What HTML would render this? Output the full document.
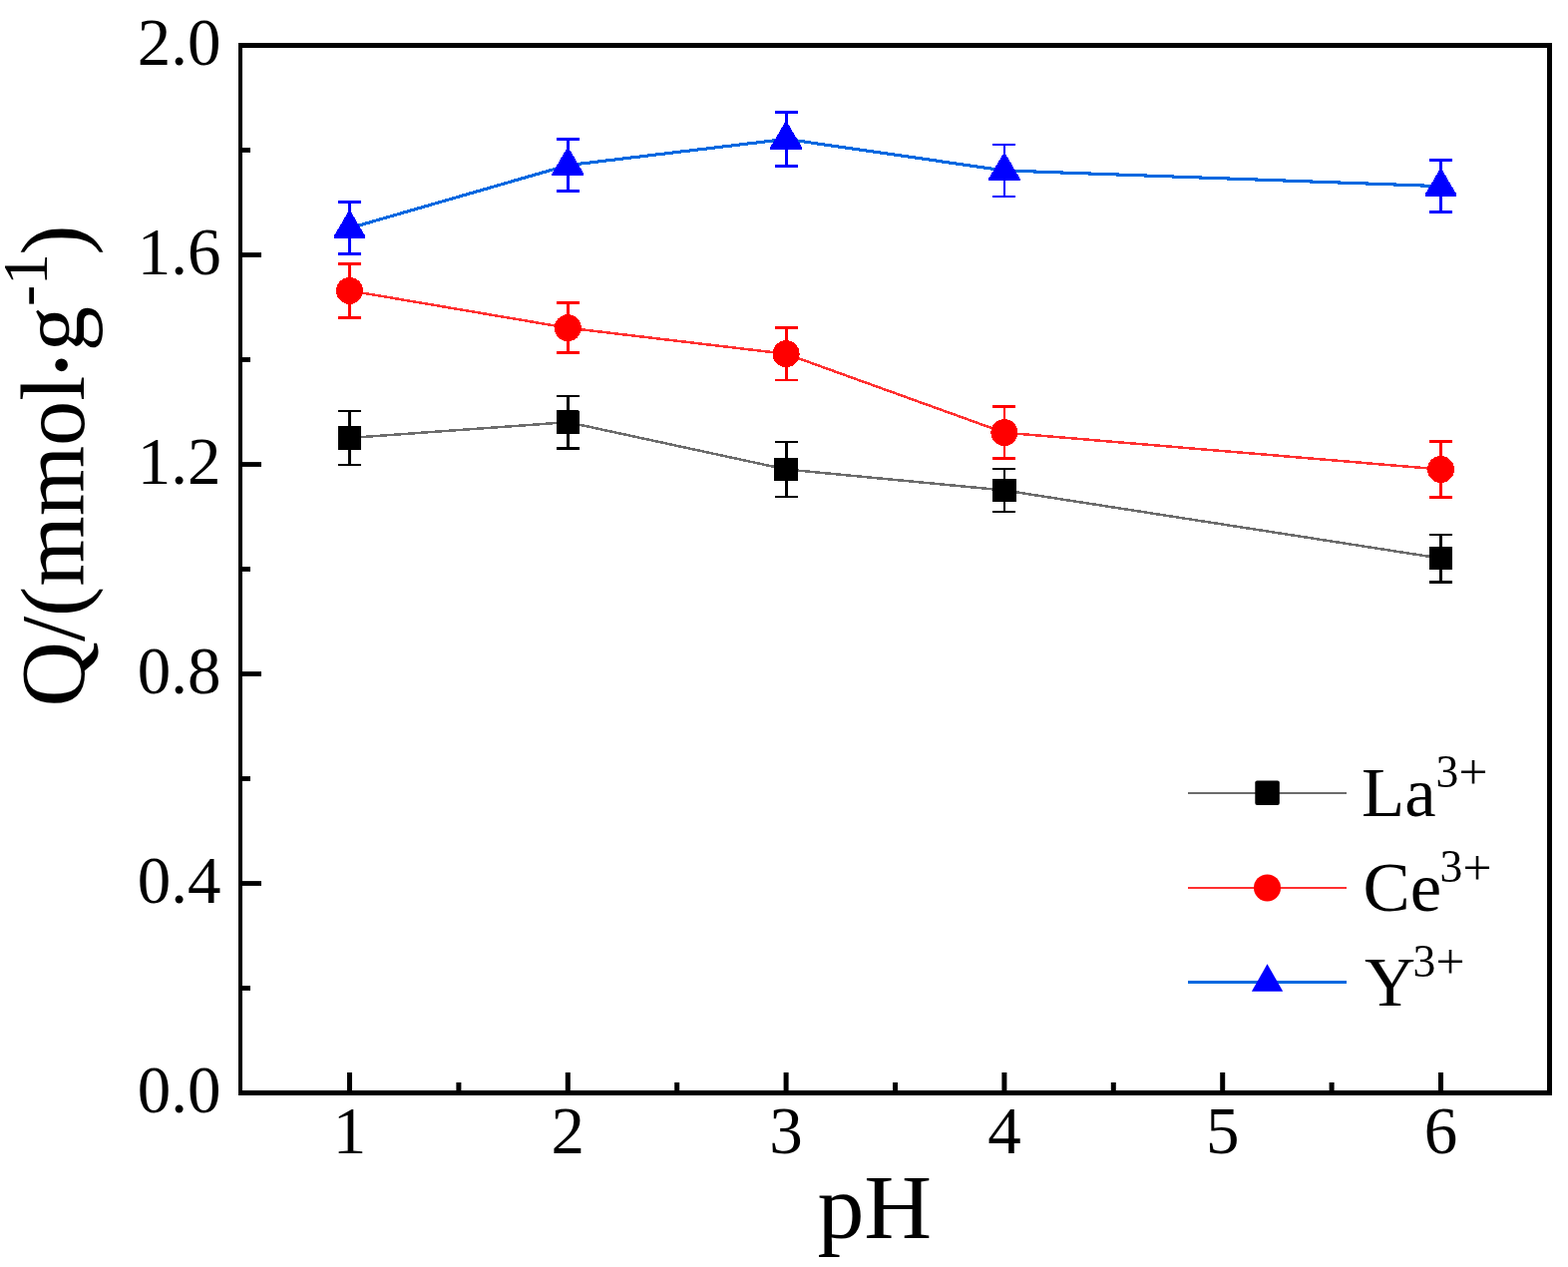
<!DOCTYPE html><html><head><meta charset="utf-8"><title>Q vs pH</title>
<style>html,body{margin:0;padding:0;background:#fff;overflow:hidden}svg{display:block}text{font-family:"Liberation Serif","Times New Roman",serif}</style></head><body>
<svg width="1572" height="1270" viewBox="0 0 1572 1270">
<rect x="0" y="0" width="1572" height="1270" fill="#fff"/>
<g shape-rendering="crispEdges">
<polyline points="350.5,438.94 569.3,423.19 788.1,470.49 1006.9,491.49 1444.5,559.63" fill="none" stroke="#6c6c6c" stroke-width="2.5" stroke-linejoin="round"/>
<polyline points="350.5,291.41 569.3,328.69 788.1,354.73 1006.9,433.63 1444.5,470.49" fill="none" stroke="#ff3030" stroke-width="2.5" stroke-linejoin="round"/>
<polyline points="350.5,228.67 569.3,165.62 788.1,139.42 1006.9,170.92 1444.5,186.67" fill="none" stroke="#0068e0" stroke-width="3.1" stroke-linejoin="round"/>
<path d="M350.5 411.9V465.97M339 411.9H362M339 465.97H362" stroke="#000" stroke-width="2.8" fill="none"/>
<rect x="338.8" y="427.14" width="23.4" height="23.6" rx="1" fill="#000"/>
<path d="M569.3 396.99V449.38M557.8 396.99H580.8M557.8 449.38H580.8" stroke="#000" stroke-width="2.8" fill="none"/>
<rect x="557.6" y="411.39" width="23.4" height="23.6" rx="1" fill="#000"/>
<path d="M788.1 442.98V498M776.6 442.98H799.6M776.6 498H799.6" stroke="#000" stroke-width="2.8" fill="none"/>
<rect x="776.4" y="458.69" width="23.4" height="23.6" rx="1" fill="#000"/>
<path d="M1006.9 469.91V513.06M995.4 469.91H1018.4M995.4 513.06H1018.4" stroke="#000" stroke-width="2.8" fill="none"/>
<rect x="995.2" y="479.69" width="23.4" height="23.6" rx="1" fill="#000"/>
<path d="M1444.5 535.9V583.36M1433 535.9H1456M1433 583.36H1456" stroke="#000" stroke-width="2.8" fill="none"/>
<rect x="1432.8" y="547.83" width="23.4" height="23.6" rx="1" fill="#000"/>
<path d="M350.5 264.53V318.29M339 264.53H362M339 318.29H362" stroke="#f00" stroke-width="2.8" fill="none"/>
<circle cx="350.5" cy="291.41" r="13.5" fill="#f00"/>
<path d="M569.3 303.49V353.89M557.8 303.49H580.8M557.8 353.89H580.8" stroke="#f00" stroke-width="2.8" fill="none"/>
<circle cx="569.3" cy="328.69" r="13.5" fill="#f00"/>
<path d="M788.1 328.53V380.92M776.6 328.53H799.6M776.6 380.92H799.6" stroke="#f00" stroke-width="2.8" fill="none"/>
<circle cx="788.1" cy="354.73" r="13.5" fill="#f00"/>
<path d="M1006.9 407.38V459.88M995.4 407.38H1018.4M995.4 459.88H1018.4" stroke="#f00" stroke-width="2.8" fill="none"/>
<circle cx="1006.9" cy="433.63" r="13.5" fill="#f00"/>
<path d="M1444.5 442.51V498.47M1433 442.51H1456M1433 498.47H1456" stroke="#f00" stroke-width="2.8" fill="none"/>
<circle cx="1444.5" cy="470.49" r="13.5" fill="#f00"/>
<path d="M350.5 202.47V254.87M339 202.47H362M339 254.87H362" stroke="#00f" stroke-width="2.8" fill="none"/>
<path d="M349.6 211.47L351.4 211.47L366.4 236.97L366.4 238.77L334.6 238.77L334.6 236.97Z" fill="#00f"/>
<path d="M569.3 139.89V191.34M557.8 139.89H580.8M557.8 191.34H580.8" stroke="#00f" stroke-width="2.8" fill="none"/>
<path d="M568.4 148.42L570.2 148.42L585.2 173.92L585.2 175.72L553.4 175.72L553.4 173.92Z" fill="#00f"/>
<path d="M788.1 112.44V166.41M776.6 112.44H799.6M776.6 166.41H799.6" stroke="#00f" stroke-width="2.8" fill="none"/>
<path d="M787.2 122.22L789 122.22L804 147.72L804 149.52L772.2 149.52L772.2 147.72Z" fill="#00f"/>
<path d="M1006.9 144.93V196.91M995.4 144.93H1018.4M995.4 196.91H1018.4" stroke="#00f" stroke-width="2.8" fill="none"/>
<path d="M1006 153.72L1007.8 153.72L1022.8 179.22L1022.8 181.02L991 181.02L991 179.22Z" fill="#00f"/>
<path d="M1444.5 160.89V212.45M1433 160.89H1456M1433 212.45H1456" stroke="#00f" stroke-width="2.8" fill="none"/>
<path d="M1443.6 169.47L1445.4 169.47L1460.4 194.97L1460.4 196.77L1428.6 196.77L1428.6 194.97Z" fill="#00f"/>
</g>
<g fill="#000">
<rect x="239" y="43" width="1317" height="5"/>
<rect x="239" y="1093" width="1317" height="5"/>
<rect x="239" y="43" width="4" height="1055"/>
<rect x="1551" y="43" width="5" height="1055"/>
<rect x="243" y="1093.1" width="19" height="4.8"/>
<rect x="243" y="988.1" width="8" height="4.8"/>
<rect x="243" y="883.1" width="19" height="4.8"/>
<rect x="243" y="778.1" width="8" height="4.8"/>
<rect x="243" y="673.1" width="19" height="4.8"/>
<rect x="243" y="568.1" width="8" height="4.8"/>
<rect x="243" y="463.1" width="19" height="4.8"/>
<rect x="243" y="358.1" width="8" height="4.8"/>
<rect x="243" y="253.1" width="19" height="4.8"/>
<rect x="243" y="148.1" width="8" height="4.8"/>
<rect x="243" y="43.1" width="19" height="4.8"/>
<rect x="348" y="1075" width="5" height="18"/>
<rect x="457.4" y="1085" width="5" height="8"/>
<rect x="566.8" y="1075" width="5" height="18"/>
<rect x="676.2" y="1085" width="5" height="8"/>
<rect x="785.6" y="1075" width="5" height="18"/>
<rect x="895" y="1085" width="5" height="8"/>
<rect x="1004.4" y="1075" width="5" height="18"/>
<rect x="1113.8" y="1085" width="5" height="8"/>
<rect x="1223.2" y="1075" width="5" height="18"/>
<rect x="1332.6" y="1085" width="5" height="8"/>
<rect x="1442" y="1075" width="5" height="18"/>
</g>
<g font-size="67" fill="#000">
<text x="221.5" y="1115.2" text-anchor="end">0.0</text>
<text x="221.5" y="905.2" text-anchor="end">0.4</text>
<text x="221.5" y="695.2" text-anchor="end">0.8</text>
<text x="221.5" y="485.2" text-anchor="end">1.2</text>
<text x="221.5" y="275.2" text-anchor="end">1.6</text>
<text x="221.5" y="65.2" text-anchor="end">2.0</text>
<text x="350.5" y="1155.5" text-anchor="middle">1</text>
<text x="569.3" y="1155.5" text-anchor="middle">2</text>
<text x="788.1" y="1155.5" text-anchor="middle">3</text>
<text x="1006.9" y="1155.5" text-anchor="middle">4</text>
<text x="1225.7" y="1155.5" text-anchor="middle">5</text>
<text x="1444.5" y="1155.5" text-anchor="middle">6</text>
</g>
<text x="819.4" y="1241" font-size="92" textLength="114.8" lengthAdjust="spacingAndGlyphs">pH</text>
<text transform="translate(84.1,708.4) rotate(-90)" font-size="90.5">Q/(mmol<tspan font-size="108" dx="-7.1" dy="13">·</tspan><tspan dx="-4.6" dy="-13">g</tspan><tspan font-size="63.6" dy="-37.2">-1</tspan><tspan dy="37.2" dx="-1.7">)</tspan></text>
<line x1="1191" y1="795" x2="1350" y2="795" stroke="#6c6c6c" stroke-width="2" shape-rendering="crispEdges"/>
<rect x="1258.3" y="782.4" width="24.5" height="24.6" rx="2" fill="#000"/>
<text x="1365" y="818.1" font-size="70.7">La<tspan font-size="45.7" dx="0" dy="-29">3</tspan><tspan font-size="51.5" dy="2.1">+</tspan></text>
<line x1="1191" y1="890" x2="1350" y2="890" stroke="#ff3030" stroke-width="2" shape-rendering="crispEdges"/>
<circle cx="1270.5" cy="889.9" r="13.5" fill="#f00"/>
<text x="1366.5" y="913.4" font-size="70.7">Ce<tspan font-size="45.7" dx="-1.5" dy="-29">3</tspan><tspan font-size="51.5" dy="2.1">+</tspan></text>
<line x1="1191" y1="984.5" x2="1350" y2="984.5" stroke="#0068e0" stroke-width="3" shape-rendering="crispEdges"/>
<path d="M1270.5 966.2L1286.2 993.7L1254.9 993.7Z" fill="#00f"/>
<text x="1368" y="1008" font-size="70.7">Y<tspan font-size="45.7" dx="-2.5" dy="-29">3</tspan><tspan font-size="51.5" dy="2.1">+</tspan></text>
</svg></body></html>
